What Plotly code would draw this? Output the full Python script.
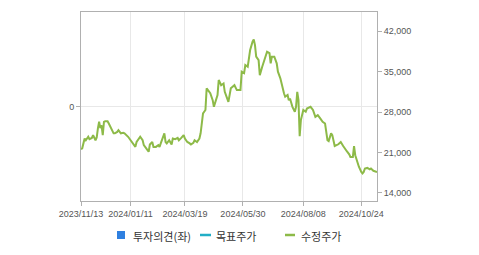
import plotly.graph_objects as go

# trading-day index (from 2023/11/13) and adjusted price (수정주가)
day_idx = [0, 1, 3, 4, 6, 7, 9, 10, 12, 13, 14, 15, 16, 17, 18, 19, 20, 22, 23, 25,
           27, 28, 30, 31, 33, 35, 36, 39, 41, 43, 45, 46, 49, 51, 52, 54, 56, 57, 59, 60,
           62, 64, 65, 66, 68, 69, 70, 71, 73, 75, 76, 78, 80, 81, 83, 85, 86, 88, 90, 91,
           93, 94, 96, 98, 99, 101, 103, 104, 107, 109, 110, 113, 114, 116, 118, 119, 122, 124, 127, 129,
           132, 133, 135, 136, 138, 139, 140, 142, 143, 144, 145, 147, 148, 150, 152, 154, 156, 157, 158, 160,
           162, 163, 165, 167, 168, 169, 171, 172, 173, 175, 177, 178, 179, 180, 181, 182, 183, 184, 186, 187,
           190, 192, 194, 196, 198, 200, 202, 203, 204, 205, 207, 208, 210, 213, 215, 217, 219, 220, 222, 223,
           225, 226, 227, 229, 230, 232, 233, 234, 235, 237, 239, 240, 242, 245]
price = [21550, 21700, 23400, 23100, 23700, 23300, 23500, 24000, 23100, 23600, 25150, 26300, 25200, 25700, 24000, 26300, 26400, 26400, 26000, 25150,
         24300, 24300, 24550, 24850, 24300, 24400, 24300, 23700, 23100, 22550, 21950, 22800, 23700, 23100, 22250, 21700, 21100, 22350, 22800, 21950,
         21950, 22250, 21950, 22550, 24000, 24300, 22800, 22550, 23100, 22350, 23400, 23300, 23500, 23100, 23500, 24000, 23400, 22800, 22550, 22350,
         22650, 23100, 22800, 23400, 24300, 27750, 28350, 32100, 31250, 30050, 28900, 30950, 33550, 32650, 32950, 31500, 29750, 32100, 32650, 31800,
         31800, 35000, 34750, 36150, 35850, 37600, 38750, 40200, 40600, 39600, 37600, 37000, 34400, 35850, 37300, 38450, 38200, 36450, 37600, 37600,
         36450, 35000, 33850, 31800, 31250, 30650, 30950, 30050, 30350, 28900, 28050, 28900, 31500, 30050, 23800, 26600, 27750, 28350, 28050, 28600,
         28900, 28350, 27150, 27450, 26900, 26300, 26000, 24850, 23100, 22950, 24300, 24000, 22100, 22400, 22800, 22100, 21400, 21200, 20650, 20200,
         20200, 22100, 20500, 19050, 18500, 17600, 17350, 17600, 18200, 18300, 18050, 18200, 17800, 17600]

tick_idx = [0, 41, 86, 134, 184, 232]
tick_labels = ["2023/11/13", "2024/01/11", "2024/03/19", "2024/05/30", "2024/08/08", "2024/10/24"]
price_ticks = [14000, 21000, 28000, 35000, 42000]
opinion_ticks = [0]
legend_names = ["투자의견(좌)", "목표주가", "수정주가"]

LINE = "#8dba48"
AXIS = "#b0b0b0"
GRID = "#e8e8e8"
TXT = "#555555"

fig = go.Figure()
# empty opinion series on the left axis (keeps the left axis alive)
fig.add_trace(go.Scatter(x=[None], y=[None], mode="lines", yaxis="y",
                         showlegend=False, hoverinfo="skip"))
fig.add_trace(go.Scatter(x=day_idx, y=price, mode="lines", yaxis="y2",
                         line=dict(color=LINE, width=2), showlegend=False,
                         hoverinfo="skip"))

L, R, T, B = 81, 102, 12, 54
W, H = 479, 255
pw, ph = W - L - R, H - T - B

def px(x):
    return (x - L) / pw

def py(y):
    return (H - B - y) / ph

shapes = [
    dict(type="rect", xref="paper", yref="paper", x0=px(117), x1=px(125), y0=py(239), y1=py(231),
         fillcolor="#2f80e0", line=dict(width=0)),
    dict(type="line", xref="paper", yref="paper", x0=px(200), x1=px(211), y0=py(235), y1=py(235),
         line=dict(color="#22aec6", width=2.5)),
    dict(type="line", xref="paper", yref="paper", x0=px(285), x1=px(295), y0=py(235), y1=py(235),
         line=dict(color=LINE, width=2.5)),
]
ann_font = dict(family="Noto Sans CJK KR", size=11, color="#333333")
annotations = [
    dict(text=legend_names[0], xref="paper", yref="paper", x=px(131), y=py(235.5),
         xanchor="left", yanchor="middle", showarrow=False, font=ann_font),
    dict(text=legend_names[1], xref="paper", yref="paper", x=px(214), y=py(235.5),
         xanchor="left", yanchor="middle", showarrow=False, font=ann_font),
    dict(text=legend_names[2], xref="paper", yref="paper", x=px(298.5), y=py(235.5),
         xanchor="left", yanchor="middle", showarrow=False, font=ann_font),
]

tick_font = dict(family="Liberation Sans, Arial", size=9, color=TXT)

fig.update_layout(
    width=W, height=H,
    margin=dict(l=L, r=R, t=T, b=B, pad=0),
    paper_bgcolor="white", plot_bgcolor="white",
    showlegend=False,
    xaxis=dict(range=[0, 245], tickmode="array", tickvals=tick_idx, ticktext=tick_labels,
               showgrid=True, gridcolor=GRID, gridwidth=1, zeroline=False,
               showline=True, linecolor=AXIS, linewidth=1, mirror=True,
               ticks="outside", ticklen=4, tickcolor=AXIS, tickfont=tick_font),
    yaxis=dict(range=[-1, 1], tickmode="array", tickvals=opinion_ticks, ticktext=["0"],
               showgrid=True, gridcolor=GRID, zeroline=False,
               showline=True, linecolor=AXIS, linewidth=1,
               ticks="outside", ticklen=4, tickcolor=AXIS, tickfont=tick_font),
    yaxis2=dict(range=[12560, 45350], overlaying="y", side="right",
                tickmode="array", tickvals=price_ticks, tickformat=",",
                showgrid=False, zeroline=False,
                showline=True, linecolor=AXIS, linewidth=1,
                ticks="outside", ticklen=4, tickcolor=AXIS, tickfont=tick_font),
    shapes=shapes,
    annotations=annotations,
)

fig.write_html("out.html")
